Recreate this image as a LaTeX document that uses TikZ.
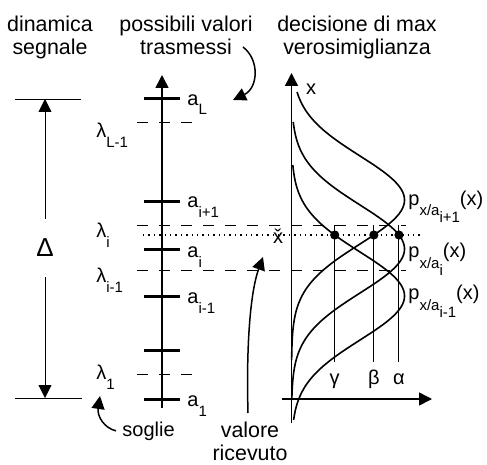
\documentclass[tikz,border=0pt]{standalone}
\usepackage{fontspec}
\setmainfont{Liberation Sans}
\usetikzlibrary{positioning,calc,arrows.meta}

\newcommand{\dn}[2][5pt]{\raisebox{-#1}{\fontsize{7.5}{8}\selectfont #2}}

\begin{document}
\begin{tikzpicture}[x=0.5pt, y=-0.5pt, >={Triangle[length=6.5pt,width=6.5pt]},
  every node/.style={inner sep=0pt},
  head/.style={font=\fontsize{10.7}{11.4}\selectfont, align=center, anchor=north},
  lab/.style={font=\fontsize{10}{12}\selectfont},
  tck/.style={line width=1.5pt},
  thr/.style={line width=0.5pt, dash pattern=on 5.5pt off 5.5pt},
  dots/.style={line width=0.7pt, dash pattern=on 0.7pt off 2pt},
  ax/.style={line width=0.75pt},
  pdf/.style={line width=0.8pt},
  dot/.style={circle, fill, minimum size=4.6pt},
  lead/.style={line width=0.5pt}]

\useasboundingbox (0,0) rectangle (487,465);

\node[head] (hdyn) at (50,16) {dinamica\\segnale};
\node[head] (hval) at (186,16) {possibili valori\\trasmessi};
\node[head] (hdec) at (357,16) {decisione di max\\verosimiglianza};

\coordinate (dT) at (45,99);
\coordinate (dB) at (45,398);
\draw (15,99) -- (81,99);
\draw (15,398) -- (82,398);
\node[lab, font=\fontsize{13}{14}\selectfont, minimum height=29pt] (dl) at (45,248) {Δ};
\draw[->] (dl) -- (dT);
\draw[->] (dl) -- (dB);

\coordinate (cB) at (162,408);
\coordinate (cT) at (162,75);
\draw[ax,->] (cB) -- (cT);
\foreach \y/\n in {99/aL,201/aip,249/ai,296/aim,350/ax,399/aa}
  \draw[tck] (144,\y) -- (180,\y) coordinate (\n);

\node[lab, anchor=base west] (taL) at (187,105) {a\dn{L}};
\node[lab, anchor=base west] (taip) at (187,207) {a\dn{i+1}};
\node[lab, anchor=base west] (tai) at (187,257) {a\dn{i}};
\node[lab, anchor=base west] (taim) at (187,303) {a\dn{i-1}};
\node[lab, anchor=base west] (taa) at (187,406) {a\dn{1}};

\draw[thr] (137,123) coordinate (lL) -- (197,123);
\draw[thr] (137,225) coordinate (lI) -- (406,225);
\draw[thr] (137,270) coordinate (lIm) -- (406,270);
\draw[thr] (137,374) coordinate (l1) -- (197,374);

\node[lab, anchor=base west] (tlL) at (96,138) {λ\dn{L-1}};
\node[lab, anchor=base west] (tlI) at (96,237) {λ\dn{i}};
\node[lab, anchor=base west] (tlIm) at (96,282) {λ\dn{i-1}};
\node[lab, anchor=base west] (tl1) at (96,379) {λ\dn{1}};

\draw[dots] (143,235) -- (420,235);
\node[lab, anchor=base] (xr) at (278,243) {\v{x}};

\coordinate (oB) at (291.5,423);
\coordinate (oT) at (291.5,73);
\coordinate (hL) at (282,399);
\coordinate (hR) at (432,399);
\draw[ax,->] (oB) -- (oT);
\draw[ax,->] (hL) -- (hR);
\node[lab, anchor=base] (xl) at (311,95) {x};

\foreach \m/\a/\b in {200/92/360, 249/122/400, 296/165/420}
  \draw[pdf] plot[domain=\a:\b, samples=100, smooth, variable=\t]
    ({291.5+113*exp(-((\t-\m)/62.2)^2)}, \t);

\node[dot] (dg) at ({291.5+113*exp(-((235-296)/62.2)^2)},235) {};
\node[dot] (db) at ({291.5+113*exp(-((235-200)/62.2)^2)},235) {};
\node[dot] (da) at ({291.5+113*exp(-((235-249)/62.2)^2)},235) {};
\coordinate (vb) at (0,362);
\foreach \n in {dg,db,da}
  \draw[lead] (\n |- lI) -- (\n |- vb);
\node[lab, anchor=base] (gl) at (dg |- 0,384) {γ};
\node[lab, anchor=base] (bl) at (db |- 0,384) {β};
\node[lab, anchor=base] (al) at (da |- 0,384) {α};

\node[lab, anchor=base west] (pip) at (408,205) {p\dn[5.5pt]{x/a\dn[3.5pt]{i+1}}(x)};
\node[lab, anchor=base west] (pi) at (408,257) {p\dn[5.5pt]{x/a\dn[3.5pt]{i}}(x)};
\node[lab, anchor=base west] (pim) at (408,299) {p\dn[5.5pt]{x/a\dn[3.5pt]{i-1}}(x)};

\coordinate (tA) at (243,47);
\coordinate (tB) at (233,100);
\draw[ax,->] (tA) .. controls (260,60) and (258,88) .. (tB);

\node[lab, anchor=base west] (sog) at (122,436) {soglie};
\coordinate (sT) at (100,396);
\draw[ax,->] ([xshift=-3pt]sog.west) .. controls (104,428) and (97,416) .. (sT);

\node[head] (vr) at (250,422) {valore\\ricevuto};
\coordinate (vT) at (263,257);
\draw[ax,->] ([xshift=-1pt,yshift=4.5pt]vr.north) .. controls (246,340) and (251,290) .. (vT);
\end{tikzpicture}
\end{document}
